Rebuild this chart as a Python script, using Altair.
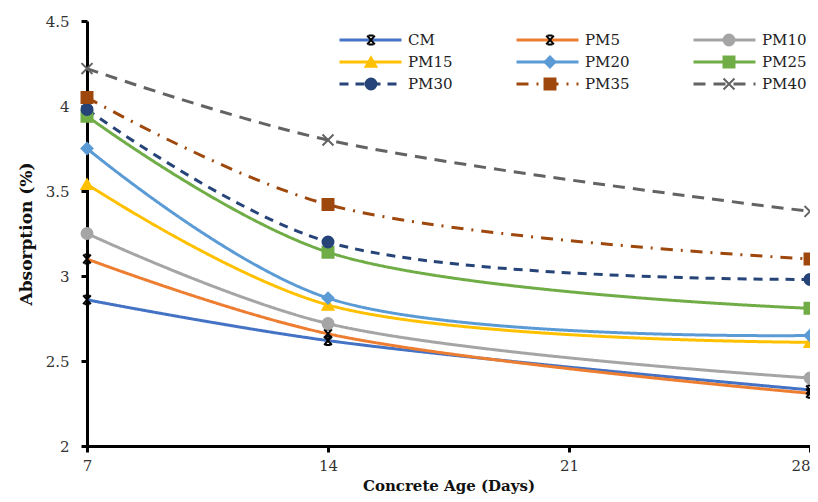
import altair as alt
import pandas as pd

days = [7, 14, 28]
series = ["CM", "PM5", "PM10", "PM15", "PM20", "PM25", "PM30", "PM35", "PM40"]
values = {
    "CM":   [2.86, 2.62, 2.33],
    "PM5":  [3.10, 2.66, 2.31],
    "PM10": [3.25, 2.72, 2.40],
    "PM15": [3.54, 2.83, 2.61],
    "PM20": [3.75, 2.87, 2.65],
    "PM25": [3.94, 3.14, 2.81],
    "PM30": [3.98, 3.20, 2.98],
    "PM35": [4.05, 3.42, 3.10],
    "PM40": [4.22, 3.80, 3.38],
}
line_colors = ["#4472C4", "#ED7D31", "#A5A5A5", "#FFC000", "#5B9BD5",
               "#70AD47", "#264478", "#9E480E", "#636363"]
dashes = [[1, 0], [1, 0], [1, 0], [1, 0], [1, 0], [1, 0],
          [9, 7], [12, 8, 2, 8], [12, 8]]
asterisk = "M-0.7,-0.8L0.7,0.8M-0.7,0.8L0.7,-0.8M-0.45,-0.8L0.45,-0.8M-0.45,0.8L0.45,0.8"
xmark = "M-1,-1L1,1M-1,1L1,-1"
shapes = [asterisk, asterisk, "circle", "triangle-up", "diamond", "square",
          "circle", "square", xmark]
fills = ["transparent", "transparent", "#A5A5A5", "#FFC000", "#5B9BD5",
         "#70AD47", "#264478", "#9E480E", "transparent"]
strokes = ["#000000", "#000000", "#A5A5A5", "#FFC000", "#5B9BD5",
           "#70AD47", "#264478", "#9E480E", "#636363"]

markers = ["m_" + s for s in series]
rows = []
for s, m in zip(series, markers):
    for d, v in zip(days, values[s]):
        rows.append({"series": s, "marker": m, "day": d, "absorption": v})
df = pd.DataFrame(rows)

FONT = "DejaVu Serif"
LX, LY = 251, 9
COLPAD = 62

x = alt.X("day:Q", scale=alt.Scale(domain=[7, 28], nice=False, zero=False),
          axis=alt.Axis(values=[7, 14, 21, 28], title="Concrete Age (Days)",
                        grid=False, domainColor="black", domainWidth=3,
                        tickColor="black", tickWidth=3, tickSize=6,
                        labelAlign=alt.condition("datum.value == 28", alt.value("right"), alt.value("center")),
                        labelFont=FONT, labelFontSize=15, labelColor="#333",
                        labelPadding=6, titleFont=FONT, titleFontSize=15,
                        titleFontWeight="bold", titlePadding=5, titleColor="#111"))
y = alt.Y("absorption:Q", scale=alt.Scale(domain=[2, 4.5], nice=False, zero=False),
          axis=alt.Axis(values=[2, 2.5, 3, 3.5, 4, 4.5], title="Absorption (%)",
                        format="~g",
                        grid=False, domainColor="black", domainWidth=3,
                        tickColor="black", tickWidth=3, tickSize=6,
                        labelFont=FONT, labelFontSize=15, labelColor="#333",
                        labelPadding=12, titleFont=FONT, titleFontSize=17,
                        titleFontWeight="bold", titlePadding=10, titleColor="#111"))

lines = alt.Chart(df).mark_line(strokeWidth=3, interpolate="catmull-rom").encode(
    x=x, y=y,
    color=alt.Color("series:N", scale=alt.Scale(domain=series, range=line_colors),
                    sort=series,
                    legend=alt.Legend(title=None, orient="none", legendX=LX, legendY=LY,
                                      columns=3, direction="horizontal",
                                      symbolType="stroke", symbolSize=3844,
                                      symbolStrokeWidth=3, labelFont=FONT,
                                      labelFontSize=15, labelColor="#222",
                                      columnPadding=COLPAD, rowPadding=2, clipHeight=20,
                                      labelOffset=5, gridAlign="all", zindex=0)),
    strokeDash=alt.StrokeDash("series:N",
                              scale=alt.Scale(domain=series, range=dashes),
                              sort=series),
)

marker_legend = alt.Legend(title=None, orient="none", legendX=LX, legendY=LY,
                           columns=3, direction="horizontal", symbolSize=120,
                           symbolStrokeWidth=2, symbolOffset=25.5,
                           labelExpr="slice(datum.label, 2)", labelOpacity=0,
                           labelFont=FONT, labelFontSize=15,
                           columnPadding=COLPAD - 25, rowPadding=2, clipHeight=20,
                           labelOffset=56, gridAlign="all", zindex=1)

points = alt.Chart(df).mark_point(size=120, strokeWidth=2, opacity=1, filled=False).encode(
    x=x, y=y,
    shape=alt.Shape("marker:N", scale=alt.Scale(domain=markers, range=shapes), legend=marker_legend),
    fill=alt.Fill("marker:N", scale=alt.Scale(domain=markers, range=fills), legend=marker_legend),
    stroke=alt.Stroke("marker:N", scale=alt.Scale(domain=markers, range=strokes), legend=marker_legend),
)

chart = alt.layer(lines, points).properties(
    width=723, height=425,
    autosize=alt.AutoSizeParams(type="none"),
    padding={"left": 79, "top": 13, "right": 0, "bottom": 48},
).configure_view(stroke=None)

chart.save("out.html", embed_options={"renderer": "svg", "actions": False})
